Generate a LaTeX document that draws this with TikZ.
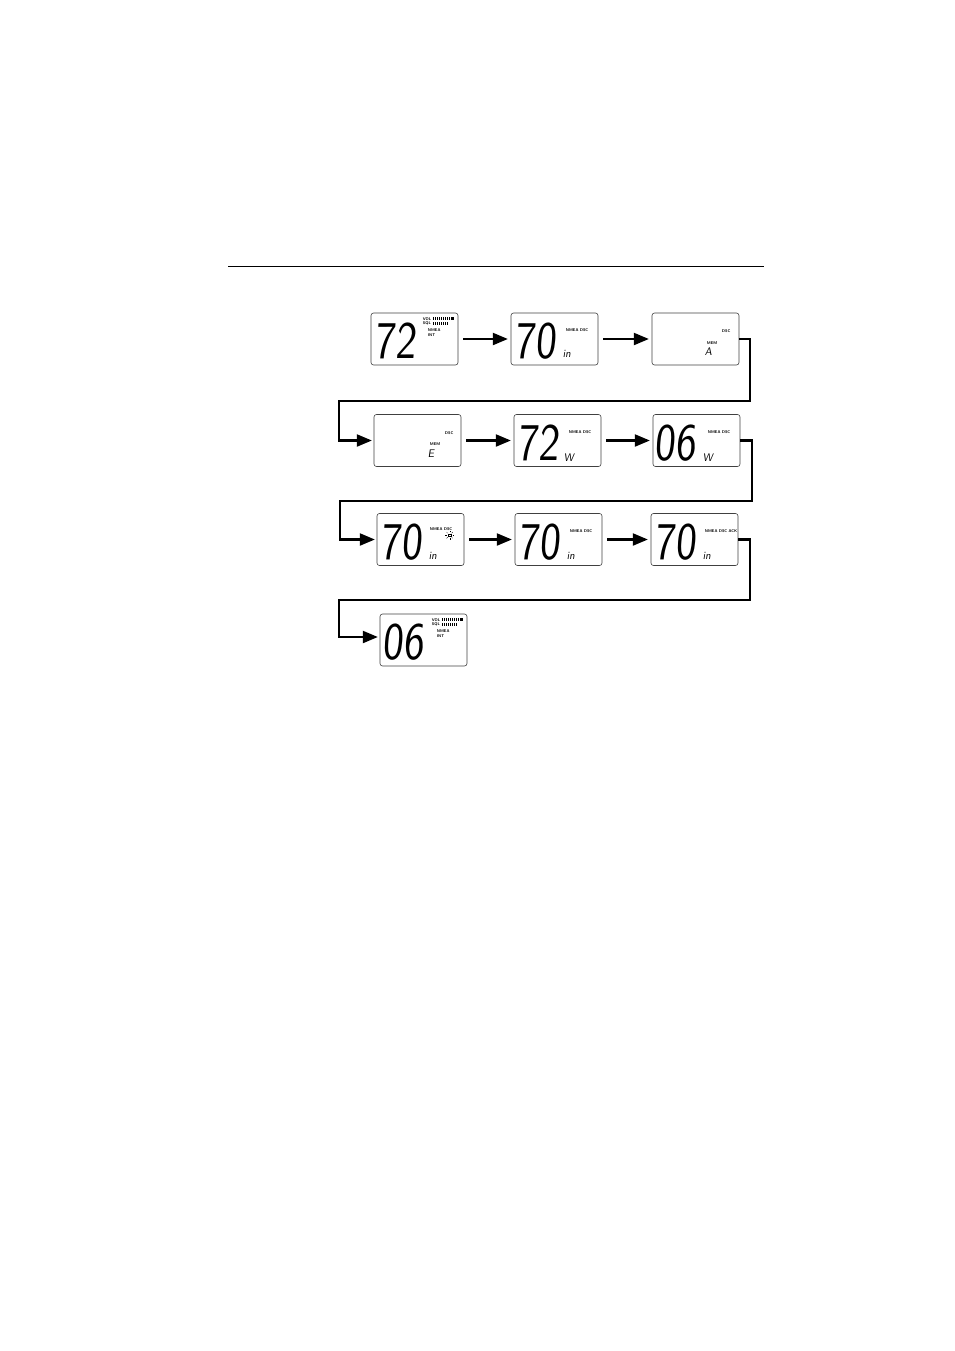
\documentclass[tikz,border=0pt]{standalone}
\usepackage{tikz}
\usetikzlibrary{arrows}
\tikzset{
	panel/.style={draw=black!75, line width=.6pt, rounded corners=2.5pt, minimum width=87pt, minimum height=52pt, inner sep=0pt},
	digits/.style={font=\fontsize{53}{53}\selectfont\sffamily, xscale=.82, xslant=.1, inner sep=0pt, anchor=base west},
	tag/.style={font=\fontsize{4}{4}\selectfont\sffamily\bfseries, inner sep=0pt, anchor=west},
	sub/.style={font=\fontsize{11}{11}\selectfont\sffamily, xslant=.15, inner sep=0pt, anchor=base west},
	link/.style={line width=2.5pt, -triangle 45, shorten >=2pt},
}
% VOL and SQL bars, NMEA, INT
\newcommand{\levels}[1]{
	\node[tag] at ([shift={(52,6)}]#1.north west) {VOL};
	\node[tag] at ([shift={(52,11)}]#1.north west) {SQL};
	\node[tag] at ([shift={(57,17)}]#1.north west) {NMEA};
	\node[tag] at ([shift={(57,22)}]#1.north west) {INT};
	\foreach \i in {0,...,8}
		\fill ([shift={(62+\i*2,4.5)}]#1.north west) rectangle ++(1,3);
	\fill ([shift={(80,4.5)}]#1.north west) rectangle ++(3,3);
	\foreach \i in {0,...,7}
		\fill ([shift={(62+\i*2,9.5)}]#1.north west) rectangle ++(1,3);
}
\begin{document}
\begin{tikzpicture}[x=1pt, y=-1pt]
				\useasboundingbox (0,0) rectangle (954,1351);
				\draw[line width=.8pt] (228,266) -- (764,266);
				% the displays
				\node[panel] (p1) at (414.5,339) {};
				\node[panel] (p2) at (554.5,339) {};
				\node[panel] (p3) at (695.5,339) {};
				\node[panel] (p4) at (417.5,440.5) {};
				\node[panel] (p5) at (557.5,440.5) {};
				\node[panel] (p6) at (696.5,440.5) {};
				\node[panel] (p7) at (420.5,539.5) {};
				\node[panel] (p8) at (558.5,539.5) {};
				\node[panel] (p9) at (694.5,539.5) {};
				\node[panel] (p10) at (423.5,640) {};
				% channel numbers
				\node[digits] (d1) at ([shift={(4,46)}]p1.north west) {72};
				\node[digits] (d2) at ([shift={(4,46)}]p2.north west) {70};
				\node[digits] (d5) at ([shift={(4,46)}]p5.north west) {72};
				\node[digits] (d6) at ([shift={(2,46)}]p6.north west) {06};
				\node[digits] (d7) at ([shift={(4,46)}]p7.north west) {70};
				\node[digits] (d8) at ([shift={(4,46)}]p8.north west) {70};
				\node[digits] (d9) at ([shift={(4,46)}]p9.north west) {70};
				\node[digits] (d10) at ([shift={(3,46)}]p10.north west) {06};
				\levels{p1}
				\levels{p10}
				% small labels
				\node[tag] at ([shift={(55,17)}]p2.north west) {NMEA\,\,DSC};
				\node[tag] at ([shift={(55,18)}]p5.north west) {NMEA\,\,DSC};
				\node[tag] at ([shift={(55,18)}]p6.north west) {NMEA\,\,DSC};
				\node[tag] at ([shift={(55,18)}]p8.north west) {NMEA\,\,DSC};
				\node[tag] at ([shift={(54,18)}]p9.north west) {NMEA\,\,DSC\,\,ACK};
				\node[tag] at ([shift={(53,16)}]p7.north west) {NMEA\,\,DSC};
				\coordinate (fl) at ([shift={(73,22)}]p7.north west);
				\draw[line width=.3pt] ([shift={(-1.5,-1)}]fl) rectangle ([shift={(1.5,1)}]fl);
				\foreach \a in {0,45,...,315}
					\draw[line width=.3pt] ([shift={(\a:2.8)}]fl) -- ([shift={(\a:4.5)}]fl);
				\node[tag] at ([shift={(70,18)}]p3.north west) {DSC};
				\node[tag] at ([shift={(55,30)}]p3.north west) {MEM};
				\node[sub] at ([shift={(53,43)}]p3.north west) {A};
				\node[tag] at ([shift={(71,19)}]p4.north west) {DSC};
				\node[tag] at ([shift={(56,30)}]p4.north west) {MEM};
				\node[sub] at ([shift={(54,43)}]p4.north west) {E};
				\node[sub] at ([shift={(52,45)}]p2.north west) {in};
				\node[sub] at ([shift={(52,46)}]p7.north west) {in};
				\node[sub] at ([shift={(52,46)}]p8.north west) {in};
				\node[sub] at ([shift={(52,46)}]p9.north west) {in};
				\node[sub] at ([shift={(50,47)}]p5.north west) {W};
				\node[sub] at ([shift={(50,47)}]p6.north west) {W};
				% arrows
				\foreach \a/\b in {p1/p2, p2/p3, p4/p5, p5/p6, p7/p8, p8/p9}
					\draw[link, shorten <=5pt, shorten >=3pt] (\a) -- (\b);
				\coordinate (r1) at (750,401);
				\coordinate (l1) at (339,401);
				\coordinate (r2) at (752,501);
				\coordinate (l2) at (340,501);
				\coordinate (r3) at (750,600);
				\coordinate (l3) at (339,600);
				\draw[link] (p3.east) -| (r1) -- (l1) |- (p4.west);
				\draw[link] (p6.east) -| (r2) -- (l2) |- (p7.west);
				\draw[link] (p9.east) -| (r3) -- (l3) |- ([yshift=3pt]p10.west);
			\end{tikzpicture}
\end{document}
